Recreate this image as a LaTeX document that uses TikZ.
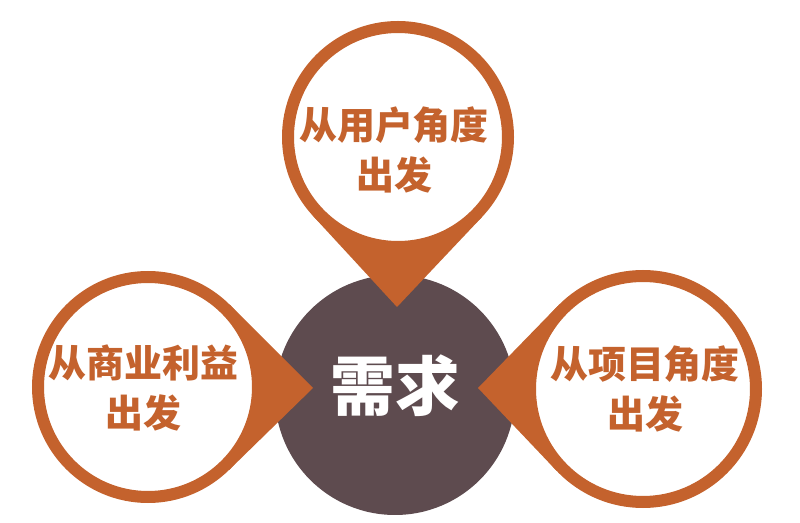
\documentclass[tikz,border=0pt]{standalone}
\usepackage{fontspec}
\newfontfamily\cjk{Noto Sans CJK SC}
\usepackage{tikz}
\usetikzlibrary{calc}
\definecolor{pinorange}{HTML}{C4622D}
\definecolor{needbrown}{HTML}{5E4B4F}
\pgfdeclarelayer{back}
\pgfsetlayers{back,main}
\newcommand{\pin}[2]{\fill[pinorange] (#2) -- (tangent cs:node=#1,point={(#2)},solution=1) -- (#1.center) -- (tangent cs:node=#1,point={(#2)},solution=2) -- cycle;}

\begin{document}
\begin{tikzpicture}[every node/.style={inner sep=0pt, align=center},
    ring/.style={circle, draw=pinorange, line width=0.3cm, fill=white},
    ringtext/.style={text=pinorange, font=\cjk\bfseries\fontsize{27}{36}\selectfont}]
    \useasboundingbox (0,0) rectangle (20,13.075);
    % three pins
    \node[ring, minimum size=5.5cm] (user) at (9.95,9.65) {};
    \node[ring, minimum size=5.5cm] (biz) at (3.7,3.4) {};
    \node[ring, minimum size=5.65cm] (proj) at (16.075,3.35) {};
    \coordinate (usertip) at (9.925,5.4);
    \coordinate (biztip) at (7.825,3.375);
    \coordinate (projtip) at (11.95,3.375);
    \begin{pgfonlayer}{back}
    \node[circle, fill=needbrown, minimum size=6cm] (need) at (9.875,3.2) {};
    \pin{user}{usertip}
    \pin{biz}{biztip}
    \pin{proj}{projtip}
    \end{pgfonlayer}
    % texts
    \node[ringtext] (usertxt) at (9.85,9.325) {从用户角度\\出发};
    \node[ringtext] (biztxt) at (3.59,3.375) {从商业利益\\出发};
    \node[ringtext] (projtxt) at (16.125,3.35) {从项目角度\\出发};
    \node[text=white, font=\cjk\bfseries\fontsize{46}{50}\selectfont] (needtxt) at (9.875,3.425) {需求};
\end{tikzpicture}
\end{document}
